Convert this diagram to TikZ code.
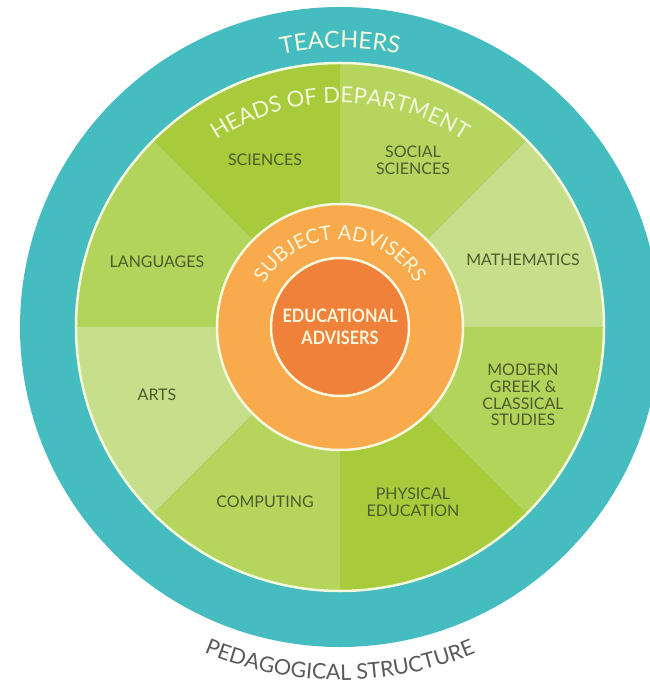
\documentclass[tikz,border=0pt]{standalone}
\usepackage{fontspec}
\setmainfont{Lato}
\newfontfamily\advfont[FakeStretch=0.88]{Lato}
\usepackage{tikz}
\usetikzlibrary{decorations.text}

\definecolor{tealc}{HTML}{45BDC0}
\definecolor{creamc}{HTML}{F4F8DC}
\definecolor{scic}{HTML}{A7CB3A}
\definecolor{socc}{HTML}{B6D55F}
\definecolor{mathc}{HTML}{C7DE8B}
\definecolor{greekc}{HTML}{B3D45A}
\definecolor{pec}{HTML}{A7CB3A}
\definecolor{compc}{HTML}{B6D55D}
\definecolor{artc}{HTML}{C7DE8B}
\definecolor{langc}{HTML}{B3D45A}
\definecolor{ringc}{HTML}{F8AA4C}
\definecolor{corec}{HTML}{F0813A}
\definecolor{labelc}{HTML}{4C5C2C}
\definecolor{titlec}{HTML}{5A5A5A}

\begin{document}
\begin{tikzpicture}[
    x=1pt, y=1pt,
    subject/.style={text=labelc, align=center, font=\fontsize{16}{16.7}\selectfont},
    core/.style={text=creamc, align=center, font=\advfont\bfseries\fontsize{18.5}{22}\selectfont},
    rim/.style={draw=creamc, line width=2.5pt}
]
    \useasboundingbox (-340,-361) rectangle (309,327);

    % rings and sectors
    \fill[tealc] (0,0) circle[radius=320];
    \foreach \a/\col in {0/mathc, 45/socc, 90/scic, 135/langc, 180/artc, 225/compc, 270/pec, 315/greekc}
        \fill[fill=\col] (0,0) -- (\a:264) arc[start angle=\a, delta angle=45, radius=264] -- cycle;
    \draw[rim] (0,0) circle[radius=264];
    \draw[rim, fill=ringc] (0,0) circle[radius=123];
    \draw[rim, fill=corec] (0,0) circle[radius=69];

    % curved titles
    \path[decorate, decoration={text along path, text align=center,
        text={|\fontsize{23.5}{24}\selectfont\color{creamc}|TEACHERS}}]
        (-279,0) arc[start angle=180, end angle=0, radius=279];
    \path[decorate, decoration={text along path, text align=center,
        text={|\fontsize{22}{22}\selectfont\color{creamc}|HEADS OF DEPARTMENT}}]
        (-224,0) arc[start angle=180, end angle=0, radius=224];
    \path[decorate, decoration={text along path, text align=center,
        text={|\fontsize{20}{20}\selectfont\color{creamc}|SUBJECT ADVISERS}}]
        (-87,0) arc[start angle=180, end angle=0, radius=87];
    \path[decorate, decoration={text along path, text align=center,
        text={|\fontsize{21.5}{22}\selectfont\color{titlec}|PEDAGOGICAL STRUCTURE}}]
        (-353,0) arc[start angle=180, end angle=360, radius=353];

    % departments
    \node[subject] (sci) at (-75,167) {SCIENCES};
    \node[subject] (soc) at (73,167) {SOCIAL\\SCIENCES};
    \node[subject] (math) at (183,67) {MATHEMATICS};
    \node[subject] (greek) at (183,-68) {MODERN\\GREEK \&\\CLASSICAL\\STUDIES};
    \node[subject] (pe) at (73,-175) {PHYSICAL\\EDUCATION};
    \node[subject] (comp) at (-75,-175) {COMPUTING};
    \node[subject] (arts) at (-183,-68) {ARTS};
    \node[subject] (lang) at (-183,65) {LANGUAGES};

    \node[core] (edu) at (0,0) {EDUCATIONAL\\ADVISERS};
\end{tikzpicture}
\end{document}
